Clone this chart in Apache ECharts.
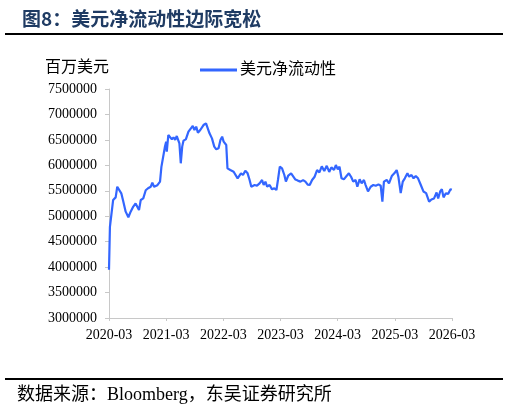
<!DOCTYPE html>
<html>
<head>
<meta charset="utf-8">
<script src="https://cdn.jsdelivr.net/npm/echarts@6/dist/echarts.min.js"></script>
<style>html,body{margin:0;padding:0;background:#fff;}#c{width:509px;height:415px;}</style>
</head>
<body>
<div id="c"></div>
<script>
const titleText = '图8：美元净流动性边际宽松';
const sourceText = '数据来源：Bloomberg，东吴证券研究所';
const unitText = '百万美元';
const seriesName = '美元净流动性';
const xTickLabels = ['2020-03','2021-03','2022-03','2023-03','2024-03','2025-03','2026-03'];
const yTicks = [3000000, 7500000, 500000];

const dates = [
'2020-03-01','2020-03-07','2020-03-15','2020-03-28','2020-04-13','2020-04-23','2020-05-04','2020-05-19','2020-06-01','2020-06-16',
'2020-07-03','2020-07-18','2020-08-04','2020-08-19','2020-08-30','2020-09-10','2020-09-21','2020-10-07','2020-10-23','2020-11-07',
'2020-11-24','2020-12-04','2020-12-15','2021-01-06','2021-01-17','2021-01-23','2021-02-01','2021-02-12','2021-02-22','2021-03-01',
'2021-03-05','2021-03-15','2021-03-26','2021-04-07','2021-04-17','2021-04-28','2021-05-08','2021-05-18','2021-05-25','2021-06-03',
'2021-06-12','2021-06-20','2021-07-05','2021-07-22','2021-08-07','2021-08-19','2021-08-30','2021-09-10','2021-09-21','2021-10-06',
'2021-10-16','2021-10-27','2021-11-12','2021-11-24','2021-12-04','2021-12-20','2022-01-04','2022-01-17','2022-02-01','2022-02-12',
'2022-02-22','2022-03-03','2022-03-14','2022-03-20','2022-03-28','2022-04-15','2022-05-06','2022-05-16','2022-06-01','2022-06-12',
'2022-06-22','2022-07-05','2022-07-20','2022-08-04','2022-08-17','2022-08-28','2022-09-08','2022-09-18','2022-10-03','2022-10-20',
'2022-11-05','2022-11-15','2022-11-26','2022-12-07','2022-12-23','2023-01-08','2023-01-23','2023-02-05','2023-02-14','2023-02-25',
'2023-03-11','2023-03-26','2023-04-05','2023-04-20','2023-05-08','2023-05-21','2023-06-05','2023-06-20','2023-07-07','2023-07-24',
'2023-08-08','2023-08-23','2023-09-05','2023-09-20','2023-10-05','2023-10-22','2023-11-06','2023-11-21','2023-12-07','2023-12-23',
'2024-01-08','2024-01-22','2024-02-08','2024-02-19','2024-03-02','2024-03-13','2024-03-26','2024-04-10','2024-04-27','2024-05-12',
'2024-05-27','2024-06-09','2024-06-24','2024-07-05','2024-07-20','2024-08-02','2024-08-17','2024-08-28','2024-09-12','2024-09-29',
'2024-10-16','2024-11-01','2024-11-18','2024-12-02','2024-12-13','2024-12-23','2025-01-10','2025-01-25','2025-02-11','2025-02-26',
'2025-03-13','2025-03-24','2025-04-08','2025-04-21','2025-05-04','2025-05-21','2025-06-01','2025-06-16','2025-06-29','2025-07-13',
'2025-07-28','2025-08-15','2025-09-01','2025-09-18','2025-10-07','2025-10-22','2025-11-08','2025-11-24','2025-12-04','2025-12-17',
'2025-12-28','2026-01-08','2026-01-23','2026-02-07','2026-02-20','2026-02-28'
];
const values = [
3950000,4790000,4990000,5320000,5370000,5580000,5580000,5450000,5290000,5090000,
4980000,5090000,5190000,5250000,5220000,5120000,5320000,5350000,5510000,5550000,
5580000,5660000,5580000,5610000,5630000,5680000,5970000,6000000,6370000,6465000,
6270000,6596000,6563000,6510000,6550000,6500000,6576000,6596000,6433000,6040000,
6368000,6485000,6510000,6662000,6727000,6773000,6694000,6760000,6642000,6694000,
6727000,6792000,6826000,6792000,6630000,6530000,6368000,6315000,6335000,6497000,
6563000,6465000,6433000,6400000,5940000,5908000,5875000,5908000,5745000,5712000,
5843000,5810000,5895000,5843000,5712000,5580000,5548000,5613000,5600000,5646000,
5712000,5613000,5679000,5580000,5613000,5528000,5548000,5515000,5712000,5973000,
5940000,5810000,5680000,5800000,5843000,5860000,5720000,5700000,5680000,5710000,
5680000,5620000,5613000,5712000,5770000,5908000,5860000,5980000,5890000,5990000,
5870000,5960000,5910000,6006000,5920000,5973000,5745000,5725000,5790000,5843000,
5770000,5680000,5712000,5580000,5725000,5646000,5712000,5613000,5487000,5580000,
5613000,5600000,5626000,5600000,5286000,5680000,5712000,5646000,5790000,5843000,
5908000,5777000,5455000,5680000,5745000,5843000,5777000,5810000,5745000,5790000,
5745000,5613000,5487000,5455000,5286000,5330000,5350000,5465000,5350000,5487000,
5530000,5370000,5450000,5440000,5530000,5520000
];

function monthsSinceStart(s) {
  const p = s.split('-').map(Number);
  const dim = new Date(p[0], p[1], 0).getDate();
  return (p[0] - 2020) * 12 + (p[1] - 3) + (p[2] - 1) / dim;
}
const seriesData = dates.map((d, i) => [monthsSinceStart(d), values[i]]);

const serif = '"Liberation Serif", "Times New Roman", serif';
const cjk = '"Liberation Serif", "Noto Sans CJK SC", serif';
const axisGray = '#c8c8c8';

const chart = echarts.init(document.getElementById('c'), null, {renderer: 'canvas'});
chart.setOption({
  animation: false,
  backgroundColor: '#ffffff',
  grid: {left: 109, right: 57, top: 89, bottom: 97, containLabel: false},
  title: {
    text: titleText, left: 17, top: 4,
    textStyle: {fontFamily: '"Noto Sans CJK SC", sans-serif', fontWeight: 'bold', fontSize: 19, color: '#1f3b63'}
  },
  legend: {
    data: [seriesName], left: 195, top: 57,
    itemWidth: 37, itemHeight: 3, itemGap: 4,
    icon: 'rect',
    textStyle: {fontFamily: cjk, fontSize: 16, color: '#000', padding: [0,0,0,-2]}
  },
  graphic: [
    {type: 'line', shape: {x1: 5, y1: 34, x2: 503, y2: 34}, style: {stroke: '#000', lineWidth: 2}},
    {type: 'line', shape: {x1: 5, y1: 379, x2: 503, y2: 379}, style: {stroke: '#000', lineWidth: 2}},
    {type: 'text', left: 45, top: 58, style: {text: unitText, font: '16px "Noto Sans CJK SC", sans-serif', fill: '#000'}},
    {type: 'text', left: 17, top: 386, style: {text: sourceText, font: '18px "Liberation Serif", "Noto Sans CJK SC", serif', fill: '#000'}}
  ],
  xAxis: {
    type: 'value', min: 0, max: 72, interval: 12,
    axisLine: {show: true, lineStyle: {color: axisGray, width: 1}},
    axisTick: {show: true, inside: false, length: 3, lineStyle: {color: axisGray}},
    splitLine: {show: false},
    axisLabel: {
      margin: 10, fontFamily: serif, fontSize: 14, color: '#000',
      formatter: v => xTickLabels[Math.round(v / 12)] || ''
    }
  },
  yAxis: {
    type: 'value', min: yTicks[0], max: yTicks[1], interval: yTicks[2],
    axisLine: {show: true, lineStyle: {color: axisGray, width: 1}},
    axisTick: {show: true, inside: false, length: 4, lineStyle: {color: axisGray}},
    splitLine: {show: false},
    axisLabel: {margin: 12, fontFamily: serif, fontSize: 14, color: '#000', formatter: v => String(v)}
  },
  series: [{
    name: seriesName, type: 'line', data: seriesData,
    showSymbol: false, symbol: 'none',
    lineStyle: {color: '#3366ff', width: 2.2},
    itemStyle: {color: '#3366ff'}
  }]
});
</script>
</body>
</html>
